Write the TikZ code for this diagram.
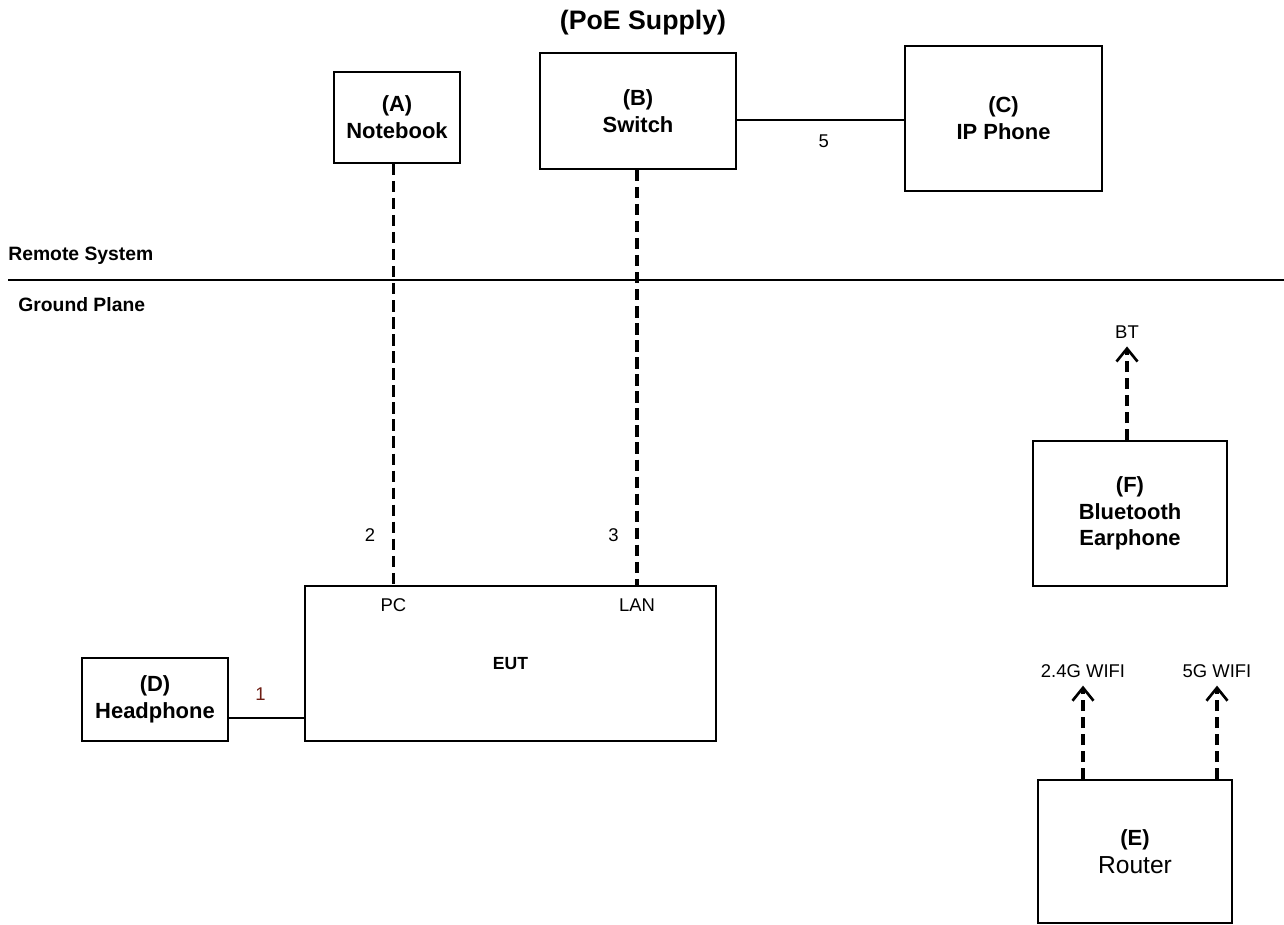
\documentclass[tikz,border=0pt]{standalone}
\usepackage{fontspec}
\setmainfont{Liberation Sans}
\usepackage{xcolor}
\usetikzlibrary{arrows.meta, positioning, calc}
\definecolor{numred}{RGB}{110,30,20}

\begin{document}
\begin{tikzpicture}[
    x=0.02cm, y=-0.02cm,
    box/.style={draw, line width=0.9pt, align=center, font=\fontsize{12.5}{15.2}\selectfont\bfseries, inner sep=0pt},
    lbl/.style={font=\fontsize{10.5}{12}\selectfont, inner sep=1pt},
    cable/.style={line width=0.9pt},
    dcable/.style={line width=1.8pt, dash pattern=on 6.5pt off 3.2pt},
    radio/.style={dcable, -{Straight Barb[length=2.6mm, width=4.2mm, line width=1.5pt]}}
]
\useasboundingbox (0,0) rectangle (1284,925);

% remote system
\node[font=\fontsize{15.2}{17}\selectfont\bfseries] (poe) at (643,23) {(PoE Supply)};
\node[box, minimum width=2.52cm, minimum height=1.82cm] (nb) at (397,117.5) {(A)\\Notebook};
\node[box, minimum width=3.92cm, minimum height=2.32cm] (sw) at (638,111) {(B)\\Switch};
\node[box, minimum width=3.94cm, minimum height=2.9cm] (ipp) at (1003.5,118.5) {(C)\\IP Phone};
\draw[cable] ([yshift=-0.18cm]sw.east) -- ([yshift=-0.18cm]sw.east -| ipp.west)
    node[lbl, pos=0.52, below=0.25cm] (n5) {5};

% boundary
\node[font=\fontsize{11}{12}\selectfont\bfseries, anchor=west, inner sep=0pt] (remote) at (8,256) {Remote System};
\node[font=\fontsize{11}{12}\selectfont\bfseries, anchor=west, inner sep=0pt] (ground) at (18,305) {Ground Plane};
\coordinate (gl) at (8,280);
\coordinate (gr) at (1284,280);
\draw[line width=0.9pt] (gl) -- (gr);

% ground plane
\node[box, minimum width=8.22cm, minimum height=3.1cm, font=\fontsize{10}{11}\selectfont\bfseries] (eut) at (510.5,663.5) {EUT};
\node[lbl] (pc) at (393.4,605) {PC};
\node[lbl] (lan) at (637,605) {LAN};
\node[box, minimum width=2.92cm, minimum height=1.66cm] (hp) at (155,699.5) {(D)\\Headphone};

\draw[dcable] (pc |- nb.south) -- (pc |- eut.north)
    node[lbl, pos=0.88, left=0.3cm] (n2) {2};
\draw[dcable] (lan |- sw.south) -- (lan |- eut.north)
    node[lbl, pos=0.88, left=0.3cm] (n3) {3};
\draw[cable] ([yshift=-0.37cm]hp.east) -- ([yshift=-0.37cm]hp.east -| eut.west)
    node[lbl, pos=0.42, above=0.3cm, text=numred] (n1) {1};

\node[box, minimum width=3.88cm, minimum height=2.9cm] (bte) at (1130,513.5) {(F)\\Bluetooth\\Earphone};
\node[lbl] (bt) at (1127,332) {BT};
\draw[radio] (bt |- bte.north) -- ([yshift=-0.12cm]bt.south);

\node[box, minimum width=3.88cm, minimum height=2.86cm, font=\fontsize{12.5}{16}\selectfont] (rt) at (1135,851.5) {\textbf{(E)}\\{\fontsize{14}{16}\selectfont Router}};
\node[lbl] (w24) at (1083,671) {2.4G WIFI};
\node[lbl] (w5) at (1217,671) {5G WIFI};
\draw[radio] (w24 |- rt.north) -- ([yshift=-0.12cm]w24.south);
\draw[radio] (w5 |- rt.north) -- ([yshift=-0.12cm]w5.south);

\end{tikzpicture}
\end{document}
